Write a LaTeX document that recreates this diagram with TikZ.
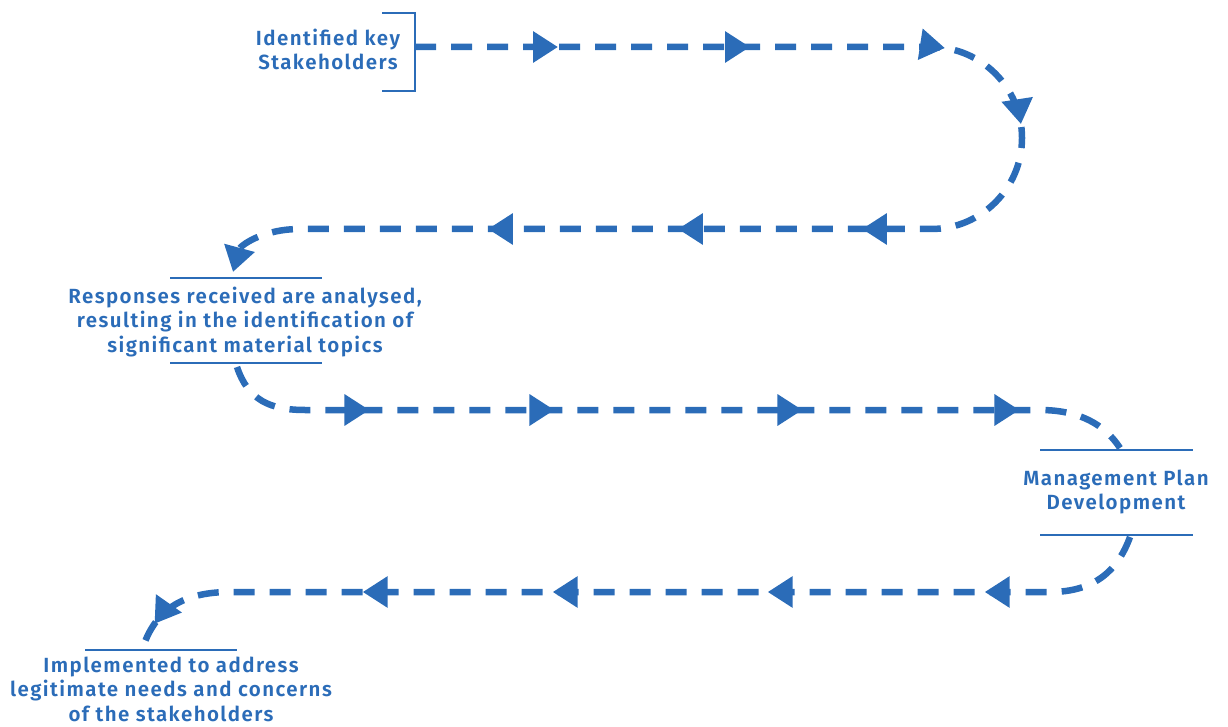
\documentclass[tikz,border=0pt]{standalone}
\usepackage{fontspec}
\setmainfont{Fira Sans}[BoldFont={Fira Sans SemiBold}, LetterSpace=7]
\usetikzlibrary{arrows.meta,decorations.markings}
\definecolor{blu}{RGB}{43,108,184}
\tikzset{Tri/.tip={Triangle[length=25pt,width=30pt]}}
\begin{document}
\begin{tikzpicture}[x=1pt,y=-1pt,
  lbl/.style={text=blu, font=\fontsize{20.5}{24.5}\selectfont\bfseries, align=center, inner sep=0pt},
  rule/.style={draw=blu, line width=2pt},
  flow/.style={draw, color=blu, line width=6.5pt, dash pattern=on 21pt off 15pt}]
\useasboundingbox (0,0) rectangle (1228,727);

% nodes
\node[lbl] (n1) at (328,49.5) {Identified key\\Stakeholders};
\node[lbl] (n2) at (245,322) {Responses received are analysed,\\resulting in the identification of\\significant material topics};
\node[lbl] (n3) at (1116,492) {Management Plan\\Development};
\node[lbl] (n4) at (171,689) {Implemented to address\\legitimate needs and concerns\\of the stakeholders};

% bracket and rules
\draw[rule] (382,13) -- (415,13) -- (415,91) -- (382,91);
\draw[rule] (170,278) -- (322,278);
\draw[rule] (170,363) -- (322,363);
\draw[rule] (1040,450) -- (1193,450);
\draw[rule] (1040,535) -- (1193,535);
\draw[rule] (85,650) -- (237,650);

% connector end points
\coordinate (s1) at (415,47);
\coordinate (e1) at (233,272);
\coordinate (s2) at (237,367);
\coordinate (e2) at (1120,448);
\coordinate (s3) at (1130,537);
\coordinate (e3) at (143,647);

% connector 1
\draw[flow, -{Tri}, postaction={decorate}, decoration={markings,
  mark=at position 143pt with {\arrow{Tri}},
  mark=at position 335pt with {\arrow{Tri}},
  mark=at position 530pt with {\arrow{Tri}},
  mark=at position 645pt with {\arrow{Tri}},
  mark=at position 871pt with {\arrow{Tri}},
  mark=at position 1055pt with {\arrow{Tri}},
  mark=at position 1245pt with {\arrow{Tri}}}]
  (s1) -- (931,47) arc[start angle=-90, end angle=90, radius=91] -- (300,229)
  .. controls (262,229) and (240,246) .. (e1);

% connector 2
\draw[flow, postaction={decorate}, decoration={markings,
  mark=at position 152pt with {\arrow{Tri}},
  mark=at position 337pt with {\arrow{Tri}},
  mark=at position 585pt with {\arrow{Tri}},
  mark=at position 802pt with {\arrow{Tri}}}]
  (s2) .. controls (248,400) and (270,410) .. (305,410) -- (1040,410)
  .. controls (1080,410) and (1105,425) .. (e2);

% connector 3
\draw[flow, postaction={decorate}, decoration={markings,
  mark=at position 170pt with {\arrow{Tri}},
  mark=at position 387pt with {\arrow{Tri}},
  mark=at position 602pt with {\arrow{Tri}},
  mark=at position 792pt with {\arrow{Tri}},
  mark=at position -26pt with {\arrow{Tri}}}]
  (s3) .. controls (1118,570) and (1095,592) .. (1050,592) -- (230,592)
  .. controls (180,592) and (155,612) .. (e3);
\end{tikzpicture}
\end{document}
